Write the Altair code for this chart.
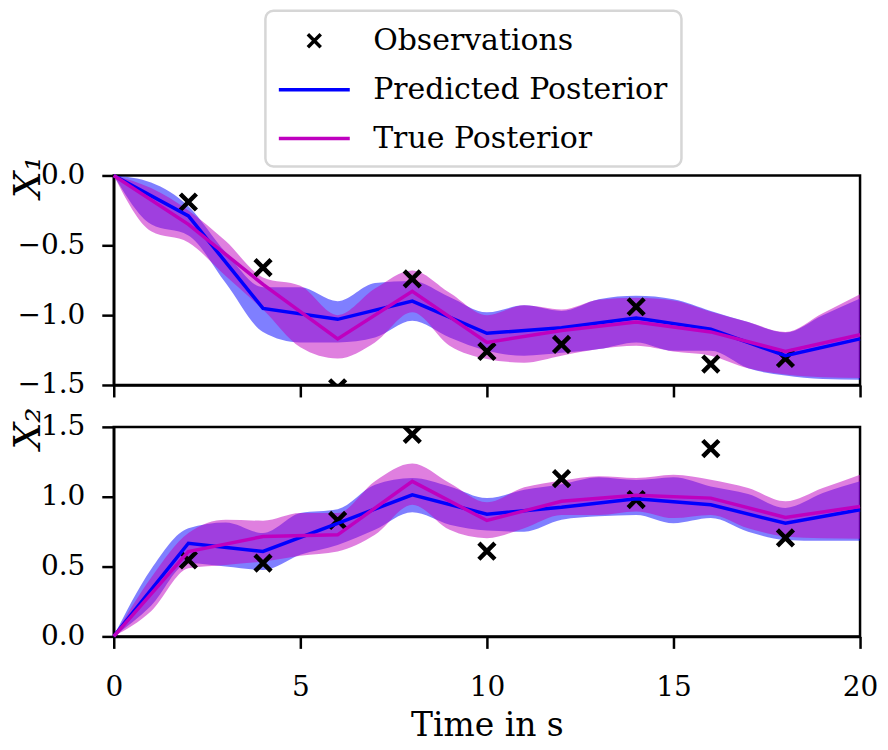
import altair as alt
import pandas as pd

# ---------------- data ----------------
obs_t = [2, 4, 6, 8, 10, 12, 14, 16, 18]
obs_x1 = [-0.19, -0.66, -1.52, -0.74, -1.26, -1.21, -0.94, -1.35, -1.31]
obs_x2 = [0.547, 0.525, 0.83, 1.446, 0.61, 1.13, 0.98, 1.345, 0.705]

mean_t = [0, 2, 4, 6, 8, 10, 12, 14, 16, 18, 20]
pred_x1 = [0, -0.29, -0.952, -1.03, -0.90, -1.13, -1.09, -1.02, -1.10, -1.29, -1.17]
true_x1 = [0, -0.35, -0.78, -1.17, -0.83, -1.195, -1.11, -1.05, -1.12, -1.26, -1.14]
pred_x2 = [0, 0.667, 0.608, 0.81, 1.014, 0.875, 0.924, 0.986, 0.943, 0.81, 0.907]
true_x2 = [0, 0.608, 0.715, 0.727, 1.11, 0.83, 0.967, 1.01, 0.99, 0.852, 0.93]

band_t = list(range(21))
pred_x1_hi = [0, -0.05, -0.22, -0.55, -0.80, -0.80, -0.90, -0.77, -0.755, -0.87, -0.98,
              -0.93, -0.97, -0.886, -0.862, -0.886, -0.97, -1.05, -1.124, -1.0, -0.88]
pred_x1_lo = [0, -0.35, -0.43, -0.77, -1.12, -1.195, -1.195, -1.16, -1.04, -1.16, -1.255,
              -1.29, -1.27, -1.243, -1.195, -1.255, -1.255, -1.38, -1.433, -1.457, -1.462]
true_x1_hi = [0, -0.09, -0.25, -0.47, -0.73, -0.79, -1.0, -0.81, -0.68, -0.84, -1.0,
              -0.93, -0.96, -0.89, -0.875, -0.895, -0.975, -1.05, -1.12, -0.986, -0.85]
true_x1_lo = [0, -0.40, -0.48, -0.72, -0.96, -1.23, -1.31, -1.195, -0.98, -1.22, -1.314,
              -1.34, -1.29, -1.243, -1.22, -1.26, -1.29, -1.38, -1.425, -1.445, -1.45]
pred_x2_hi = [0, 0.48, 0.775, 0.816, 0.74, 0.883, 0.911, 1.086, 1.134, 1.074, 0.99,
              1.05, 1.09, 1.14, 1.12, 1.14, 1.074, 1.02, 0.92, 1.026, 1.11]
pred_x2_lo = [0, 0.22, 0.524, 0.50, 0.476, 0.585, 0.655, 0.763, 0.888, 0.80, 0.758,
              0.75, 0.835, 0.86, 0.87, 0.81, 0.847, 0.75, 0.69, 0.684, 0.684]
true_x2_hi = [0, 0.42, 0.74, 0.835, 0.828, 0.883, 0.883, 1.11, 1.237, 1.098, 0.96,
              1.067, 1.115, 1.146, 1.134, 1.158, 1.122, 1.062, 0.967, 1.062, 1.158]
true_x2_lo = [0, 0.18, 0.488, 0.512, 0.536, 0.578, 0.608, 0.727, 0.943, 0.763, 0.703,
              0.775, 0.87, 0.87, 0.895, 0.847, 0.87, 0.775, 0.715, 0.703, 0.70]

series_names = ["Observations", "Predicted Posterior", "True Posterior"]
series_colors = ["#000000", "#0000ff", "#bf00bf"]
x_ticks = [0, 5, 10, 15, 20]
x1_ticks = [-1.5, -1.0, -0.5, 0.0]
x2_ticks = [0.0, 0.5, 1.0, 1.5]

# ---------------- styling ----------------
FONT = "DejaVu Serif"
XPATH = "M-0.43,-0.43L0.43,0.43M-0.43,0.43L0.43,-0.43"
LINEPATH = "M-2.37,0L2.37,0"
color_scale = alt.Scale(domain=series_names, range=series_colors)
shape_scale = alt.Scale(domain=series_names, range=[XPATH, LINEPATH, LINEPATH])

W, H = 748, 210


def panel(obs, pred, true, p_lo, p_hi, t_lo, t_hi, ydom, yticks, ytitle, bottom, legend):
    df_obs = pd.DataFrame({"t": obs_t, "v": obs, "series": "Observations"})
    df_lines = pd.concat([
        pd.DataFrame({"t": mean_t, "v": pred, "series": "Predicted Posterior"}),
        pd.DataFrame({"t": mean_t, "v": true, "series": "True Posterior"}),
    ])
    df_bp = pd.DataFrame({"t": band_t, "lo": p_lo, "hi": p_hi})
    df_bt = pd.DataFrame({"t": band_t, "lo": t_lo, "hi": t_hi})

    if bottom:
        xaxis = alt.Axis(values=x_ticks, format="d", title="Time in s", labelFlush=False)
    else:
        xaxis = alt.Axis(values=x_ticks, labels=False, title=None)
    x = alt.X("t:Q", scale=alt.Scale(domain=[0, 20], nice=False), axis=xaxis)
    yscale = alt.Scale(domain=ydom, nice=False)
    yaxis = alt.Axis(values=yticks, format=".1f", title=ytitle,
                     titleAlign="right", titleX=-74, titleY=-20, titleAngle=270,
                     titleBaseline="alphabetic", titleFontStyle="italic", titleFontSize=38,
                     labelFlush=False, labelPadding=17)

    area_p = alt.Chart(df_bp).mark_area(color="#0000ff", opacity=0.5, interpolate="monotone").encode(
        x=x, y=alt.Y("lo:Q", scale=yscale, axis=yaxis), y2="hi:Q")
    area_t = alt.Chart(df_bt).mark_area(color="#bf00bf", opacity=0.5, interpolate="monotone").encode(
        x=x, y=alt.Y("lo:Q", scale=yscale, axis=yaxis), y2="hi:Q")
    pts = alt.Chart(df_obs).mark_point(filled=False, size=1400, strokeWidth=4.5, opacity=1, clip=True).encode(
        x=x, y=alt.Y("v:Q", scale=yscale, axis=yaxis),
        color=alt.Color("series:N", scale=color_scale, legend=legend),
        shape=alt.Shape("series:N", scale=shape_scale, legend=legend))
    lines = alt.Chart(df_lines).mark_line(strokeWidth=3.5).encode(
        x=x, y=alt.Y("v:Q", scale=yscale, axis=yaxis),
        color=alt.Color("series:N", scale=color_scale, legend=None))
    return alt.layer(area_p, area_t, pts, lines).properties(width=W, height=H)


legend = alt.Legend(title=None, orient="none", legendX=152, legendY=-165,
                    symbolSize=900, symbolStrokeWidth=3.5, symbolOffset=19,
                    labelFont=FONT, labelFontSize=30, labelColor="black",
                    labelOffset=42, labelLimit=0, padding=13, rowPadding=17,
                    strokeColor="#d6d6d6", fillColor="white", cornerRadius=8)

top = panel(obs_x1, pred_x1, true_x1, pred_x1_lo, pred_x1_hi, true_x1_lo, true_x1_hi,
            [-1.5, 0.0], x1_ticks, "X₁", False, legend)
bot = panel(obs_x2, pred_x2, true_x2, pred_x2_lo, pred_x2_hi, true_x2_lo, true_x2_hi,
            [0.0, 1.5], x2_ticks, "X₂", True, None)

chart = alt.vconcat(top, bot, spacing=4).properties(
    padding={"left": 0, "top": 0, "right": 0, "bottom": 0},
    background="white",
).configure_view(
    stroke="black", strokeWidth=2.5
).configure_axis(
    grid=False, domainColor="black", domainWidth=2.5, tickColor="black", tickWidth=2.5,
    tickSize=12, labelFont=FONT, labelFontSize=28, labelColor="black",
    titleFont=FONT, titleFontSize=33, titleColor="black", titleFontWeight="normal"
).configure_axisX(
    titlePadding=8, labelPadding=25
).configure_legend(
    strokeWidth=2.5
)

chart.save("out.html", embed_options={"renderer": "svg", "actions": False})
